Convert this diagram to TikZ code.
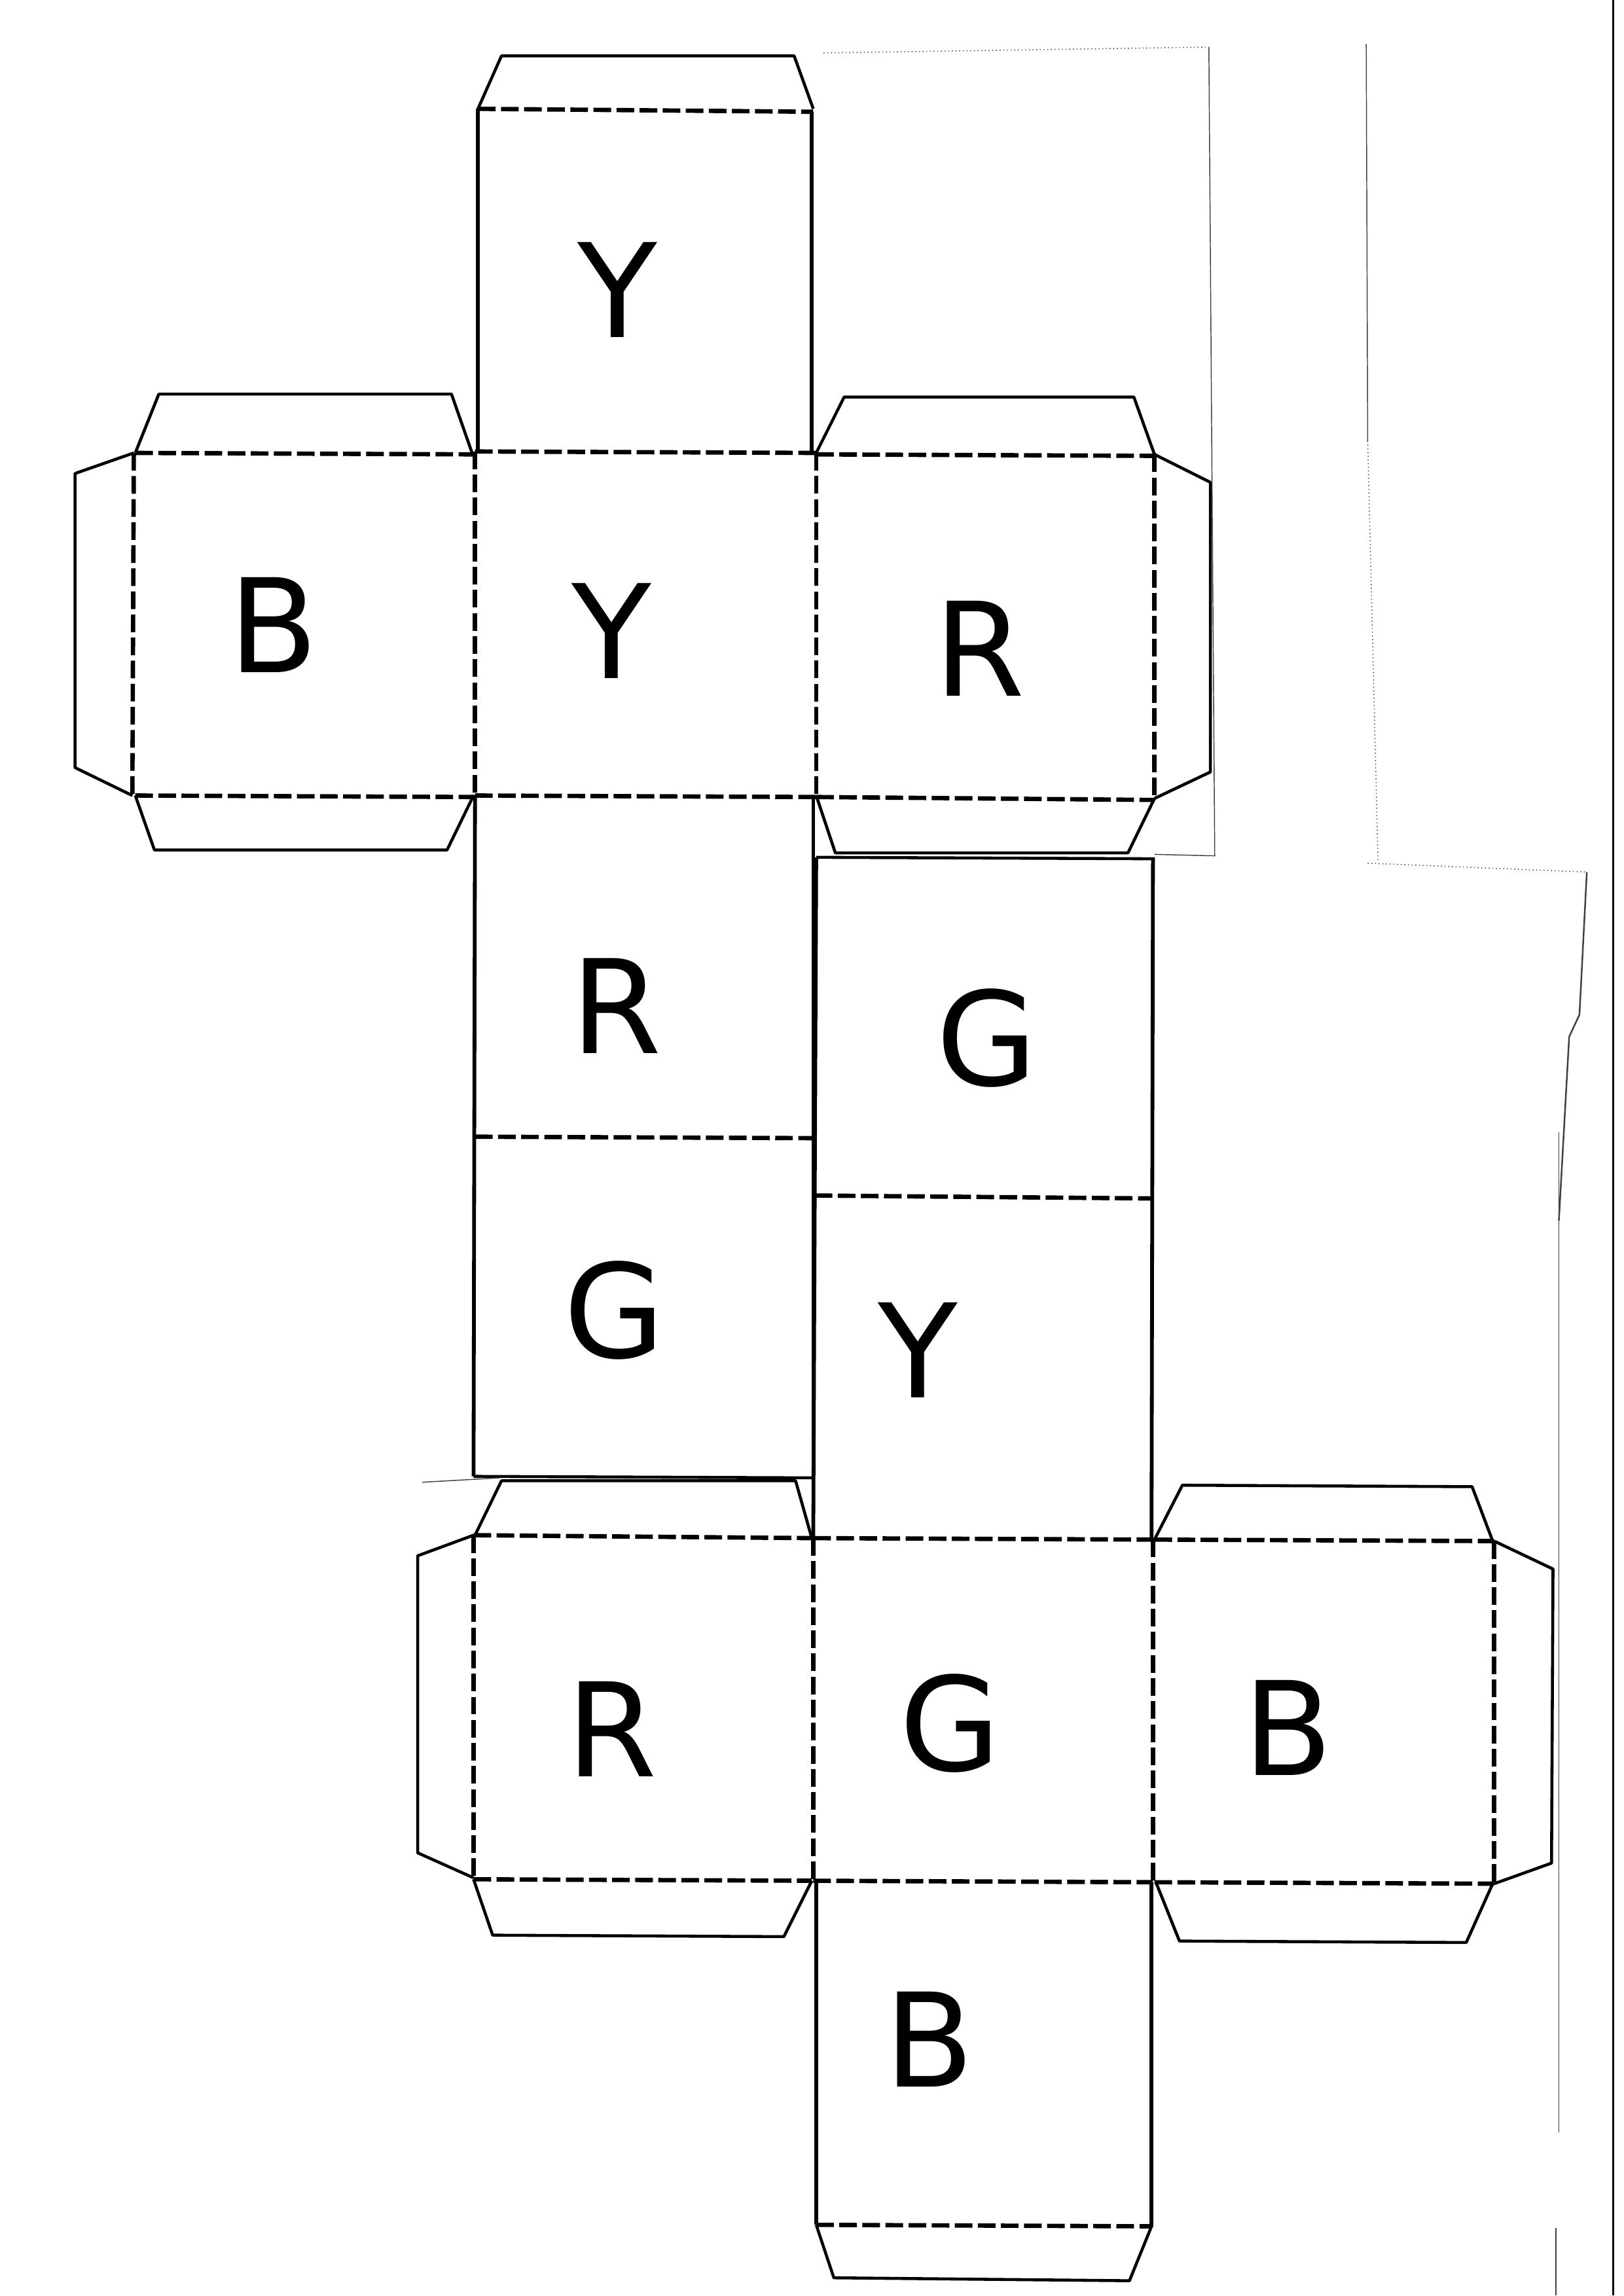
\documentclass[tikz,border=0pt]{standalone}
\usepackage{fontspec}
\setmainfont{DejaVu Sans}
\tikzset{%
    cutEdge/.style = {draw=black, line width=1.4pt, line join=round},
    tabEdge/.style = {cutEdge, line width=1.1pt},
    foldEdge/.style = {draw=black, line width=1.6pt, dash pattern=on 6.5pt off 2pt},
    scanEdge/.style = {draw=black!75, line width=0.35pt},
    faceLabel/.style = {inner sep=0pt, text height=35pt, text depth=0pt,
                           font=\fontsize{48}{48}\selectfont},
}
\begin{document}
\begin{tikzpicture}[x=0.019022cm, y=-0.019022cm]
  \useasboundingbox (0,0) rectangle (1104,1561.4);

  % Labels of the faces
  \node (yellowTop)    [faceLabel] at (420,197)  {Y};
  \node (yellowCross)  [faceLabel] at (416,429)  {Y};
  \node (blueLeft)     [faceLabel] at (186,425)  {B};
  \node (redRight)     [faceLabel] at (666,441)  {R};
  \node (redMiddle)    [faceLabel] at (419,684)  {R};
  \node (greenRight)   [faceLabel] at (671,706)  {G};
  \node (greenMiddle)  [faceLabel] at (418,891)  {G};
  \node (yellowLower)  [faceLabel] at (624,918)  {Y};
  \node (redLower)     [faceLabel] at (416,1176) {R};
  \node (greenLower)   [faceLabel] at (646,1172) {G};
  \node (blueRight)    [faceLabel] at (876,1175) {B};
  \node (blueBottom)   [faceLabel] at (632,1387) {B};

  % Solid sides of the two columns
  \draw[cutEdge] (325,74) -- (325,307);
  \draw[cutEdge] (552,76) -- (552,307);
  \draw[cutEdge] (323,541) -- (322,1004);
  \draw[cutEdge] (553,541) -- (553,1004);
  \draw[cutEdge] (555,583) -- (554,813) -- (553,1046);
  \draw[cutEdge] (784,583) -- (783,1047);
  \draw[cutEdge] (555,1280) -- (555,1513);
  \draw[cutEdge] (783,1280) -- (783,1514);
  \draw[tabEdge] (322,1004) -- (553,1005);
  \draw[tabEdge] (555,583) -- (784,584);

  % Glue tabs, upper cross
  \draw[tabEdge] (325,74) -- (341,38) -- (540,38) -- (553,74);
  \draw[tabEdge] (92,308) -- (108,268) -- (307,268) -- (321,308);
  \draw[tabEdge] (91,308) -- (51,322) -- (51,522) -- (90,541);
  \draw[tabEdge] (92,541) -- (105,578) -- (304,578) -- (322,541);
  \draw[tabEdge] (555,308) -- (574,270) -- (771,270) -- (785,309);
  \draw[tabEdge] (785,309) -- (823,328) -- (823,525) -- (785,543);
  \draw[tabEdge] (555,541) -- (568,580) -- (767,580) -- (785,543);

  % Glue tabs, lower cross
  \draw[tabEdge] (323,1044) -- (341,1007) -- (541,1007) -- (552,1046);
  \draw[tabEdge] (322,1044) -- (284,1058) -- (284,1260) -- (322,1277);
  \draw[tabEdge] (322,1278) -- (335,1316) -- (533,1317) -- (552,1279);
  \draw[tabEdge] (785,1047) -- (804,1010) -- (1001,1011) -- (1015,1048);
  \draw[tabEdge] (1016,1048) -- (1056,1067) -- (1055,1267) -- (1016,1281);
  \draw[tabEdge] (786,1280) -- (802,1320) -- (997,1321) -- (1015,1281);
  \draw[tabEdge] (555,1513) -- (567,1549) -- (768,1551) -- (783,1514);

  % Fold lines, upper cross
  \draw[foldEdge] (325,74) -- (553,76);
  \draw[foldEdge] (92,308) -- (323,309);
  \draw[foldEdge] (323,307) -- (555,308);
  \draw[foldEdge] (555,309) -- (785,310);
  \draw[foldEdge] (92,541) -- (323,542);
  \draw[foldEdge] (323,541) -- (555,542);
  \draw[foldEdge] (555,542) -- (785,544);
  \draw[foldEdge] (91,308) -- (90,541);
  \draw[foldEdge] (323,307) -- (323,541);
  \draw[foldEdge] (555,308) -- (555,541);
  \draw[foldEdge] (785,309) -- (785,543);

  % Fold lines, columns
  \draw[foldEdge] (323,773) -- (553,774);
  \draw[foldEdge] (554,813) -- (783,815);
  \draw[foldEdge] (555,1513) -- (783,1514);

  % Fold lines, lower cross
  \draw[foldEdge] (322,1044) -- (552,1046);
  \draw[foldEdge] (553,1046) -- (784,1047);
  \draw[foldEdge] (785,1047) -- (1016,1048);
  \draw[foldEdge] (322,1278) -- (552,1279);
  \draw[foldEdge] (553,1279) -- (784,1280);
  \draw[foldEdge] (785,1280) -- (1016,1281);
  \draw[foldEdge] (322,1044) -- (322,1278);
  \draw[foldEdge] (553,1046) -- (553,1279);
  \draw[foldEdge] (784,1047) -- (784,1280);
  \draw[foldEdge] (1016,1048) -- (1016,1281);

  % Traces of the scan
  \draw[scanEdge, densely dotted] (560,36) -- (822,32);
  \draw[scanEdge] (822,32) -- (826,582) -- (785,581);
  \draw[scanEdge] (929,30) -- (930,300);
  \draw[scanEdge, densely dotted] (930,300) -- (937,585);
  \draw[scanEdge, densely dotted] (930,587) -- (1079,593);
  \draw[scanEdge, line width=0.6pt] (1079,593) -- (1074,690) -- (1067,705) -- (1060,830);
  \draw[scanEdge] (1060,770) -- (1060,1450);
  \draw[scanEdge] (1058,1515) -- (1058,1561);
  \draw[scanEdge] (287,1008) -- (340,1005);
  \draw[draw=black, line width=0.7pt] (1097,0) -- (1097,1561);
\end{tikzpicture}
\end{document}
